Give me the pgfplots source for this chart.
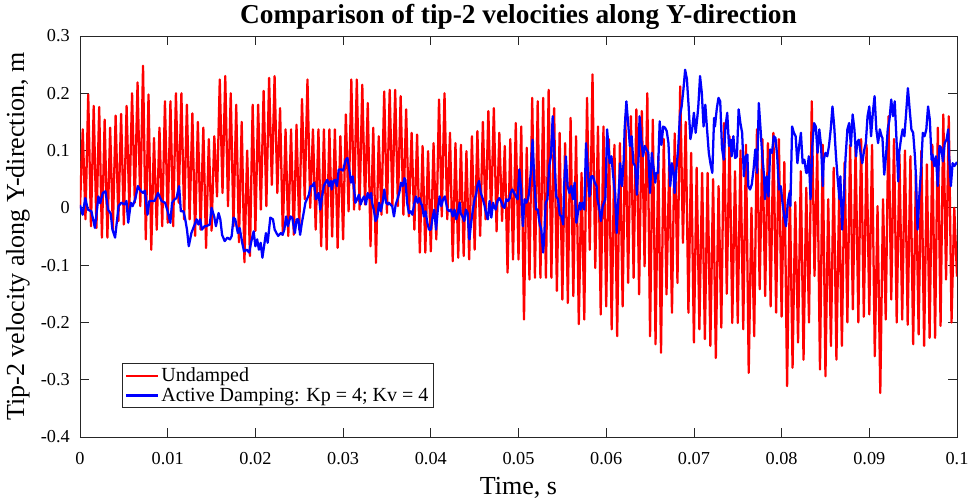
\documentclass[border=0pt]{standalone}
\usepackage{fontspec}
\setmainfont{Liberation Serif}
\usepackage{pgfplots}
\pgfplotsset{compat=1.18}
\definecolor{axgray}{gray}{0.15}
\begin{document}
\begin{tikzpicture}
\begin{axis}[
  at={(0,0)}, anchor=south west,
  scale only axis, width=657.75pt, height=300.75pt,
  xmin=0, xmax=0.1, ymin=-0.4, ymax=0.3,
  xtick={0,0.01,0.02,0.03,0.04,0.05,0.06,0.07,0.08,0.09,0.1},
  xticklabels={0,0.01,0.02,0.03,0.04,0.05,0.06,0.07,0.08,0.09,0.1},
  ytick={-0.4,-0.3,-0.2,-0.1,0,0.1,0.2,0.3},
  yticklabels={-0.4,-0.3,-0.2,-0.1,0,0.1,0.2,0.3},
  scaled ticks=false,
  tick align=inside, major tick length=6.6pt,
  axis line style={axgray, line width=0.6pt},
  every tick/.style={axgray, line width=0.6pt},
  tick label style={font=\fontsize{13.7}{16}\selectfont, text=black},
  xticklabel style={inner sep=0pt, yshift=-11pt},
  yticklabel style={inner sep=0pt, xshift=-7.5pt},
  every axis title shift=0pt,
  title={Comparison of tip-2 velocities along Y-direction},
  title style={font=\bfseries\fontsize{20.5}{24}\selectfont, at={(axis description cs:0.5,1.016)}, anchor=south, inner sep=0pt},
  xlabel={Time, s},
  xlabel style={font=\fontsize{19.5}{22}\selectfont, at={(axis description cs:0.5,-0.0998)}, anchor=north, inner sep=0pt},
  ylabel={Tip-2 velocity along Y-direction, m},
  ylabel style={font=\fontsize{19.5}{22}\selectfont, at={(axis description cs:-0.057,0.5)}, anchor=south, inner sep=0pt},
  legend style={at={(axis description cs:0.048,0.072)}, anchor=south west, draw=axgray, line width=0.5pt, fill=white,
    inner xsep=2pt, inner ysep=2pt, font=\fontsize{15}{17}\selectfont, row sep=0pt, nodes={inner sep=1.5pt}},
  legend cell align=left,
  legend image code/.code={\draw[#1] (0pt,0pt) -- (24pt,0pt);},
]
\addplot[red, line width=1.7pt, line join=round] table {
0 0.000
0.0003125 0.137
0.000625 -0.020
0.0009375 0.198
0.00125 -0.032
0.0015625 0.178
0.001875 -0.035
0.0021875 0.176
0.0025 -0.052
0.0028125 0.154
0.003125 -0.052
0.0034375 0.140
0.00375 -0.038
0.0040625 0.161
0.004375 -0.023
0.0046875 0.164
0.005 -0.029
0.0053125 0.178
0.005625 -0.003
0.0059375 0.200
0.00625 0.009
0.0065625 0.219
0.006875 0.003
0.0071875 0.248
0.0075 -0.055
0.0078125 0.198
0.008125 -0.073
0.0084375 0.122
0.00875 -0.038
0.0090625 0.140
0.009375 -0.032
0.0096875 0.186
0.01 -0.026
0.0103125 0.186
0.010625 -0.032
0.0109375 0.200
0.01125 0.009
0.0115625 0.200
0.011875 -0.020
0.0121875 0.180
0.0125 -0.020
0.0128125 0.165
0.013125 -0.049
0.0134375 0.150
0.01375 -0.038
0.0140625 0.140
0.014375 -0.070
0.0146875 0.120
0.015 -0.040
0.0153125 0.125
0.015625 0.020
0.0159375 0.224
0.01625 0.026
0.0165625 0.230
0.016875 0.003
0.0171875 0.200
0.0175 -0.032
0.0178125 0.180
0.018125 -0.060
0.0184375 0.150
0.01875 -0.095
0.0190625 0.100
0.019375 -0.084
0.0196875 0.180
0.02 -0.040
0.0203125 0.180
0.020625 -0.003
0.0209375 0.204
0.02125 0.003
0.0215625 0.227
0.021875 0.040
0.0221875 0.230
0.0225 0.026
0.0228125 0.174
0.023125 -0.047
0.0234375 0.137
0.02375 -0.049
0.0240625 0.137
0.024375 -0.047
0.0246875 0.145
0.025 -0.038
0.0253125 0.190
0.025625 0.015
0.0259375 0.224
0.02625 0.000
0.0265625 0.137
0.026875 -0.038
0.0271875 0.137
0.0275 -0.067
0.0278125 0.137
0.028125 -0.073
0.0284375 0.137
0.02875 -0.050
0.0290625 0.137
0.029375 -0.070
0.0296875 0.125
0.03 -0.055
0.0303125 0.163
0.030625 -0.006
0.0309375 0.224
0.03125 -0.003
0.0315625 0.224
0.031875 -0.003
0.0321875 0.215
0.0325 0.006
0.0328125 0.183
0.033125 -0.067
0.0334375 0.140
0.03375 -0.096
0.0340625 0.125
0.034375 -0.012
0.0346875 0.203
0.035 -0.009
0.0353125 0.206
0.035625 0.003
0.0359375 0.206
0.03625 0.003
0.0365625 0.195
0.036875 -0.012
0.0371875 0.172
0.0375 -0.015
0.0378125 0.131
0.038125 -0.038
0.0384375 0.128
0.03875 -0.078
0.0390625 0.108
0.039375 -0.078
0.0396875 0.099
0.04 -0.076
0.0403125 0.113
0.040625 -0.055
0.0409375 0.189
0.04125 -0.015
0.0415625 0.200
0.041875 -0.020
0.0421875 0.131
0.0425 -0.093
0.0428125 0.113
0.043125 -0.087
0.0434375 0.110
0.04375 -0.084
0.0440625 0.099
0.044375 -0.090
0.0446875 0.125
0.045 -0.073
0.0453125 0.134
0.045625 -0.049
0.0459375 0.150
0.04625 -0.020
0.0465625 0.169
0.046875 -0.015
0.0471875 0.174
0.0475 -0.041
0.0478125 0.131
0.048125 -0.023
0.0484375 0.108
0.04875 -0.113
0.0490625 0.120
0.049375 -0.090
0.0496875 0.148
0.05 -0.090
0.0503125 0.142
0.050625 -0.195
0.0509375 0.105
0.05125 -0.125
0.0515625 0.192
0.051875 -0.122
0.0521875 0.186
0.0525 -0.122
0.0528125 0.192
0.053125 -0.122
0.0534375 0.206
0.05375 -0.122
0.0540625 0.174
0.054375 -0.145
0.0546875 0.131
0.055 -0.160
0.0553125 0.113
0.055625 -0.166
0.0559375 0.157
0.05625 -0.154
0.0565625 0.125
0.056875 -0.203
0.0571875 0.061
0.0575 -0.195
0.0578125 0.192
0.058125 -0.073
0.0584375 0.233
0.05875 -0.105
0.0590625 0.142
0.059375 -0.186
0.0596875 0.142
0.06 -0.172
0.0603125 0.120
0.060625 -0.212
0.0609375 0.110
0.06125 -0.224
0.0615625 0.113
0.061875 -0.172
0.0621875 0.160
0.0625 -0.131
0.0628125 0.160
0.063125 -0.122
0.0634375 0.172
0.06375 -0.151
0.0640625 0.169
0.064375 -0.102
0.0646875 0.200
0.065 -0.224
0.0653125 0.154
0.065625 -0.238
0.0659375 0.090
0.06625 -0.253
0.0665625 0.120
0.066875 -0.151
0.0671875 0.080
0.0675 -0.183
0.0678125 0.130
0.068125 -0.131
0.0684375 0.212
0.06875 -0.061
0.0690625 0.150
0.069375 -0.183
0.0696875 0.096
0.07 -0.235
0.0703125 0.070
0.070625 -0.212
0.0709375 0.061
0.07125 -0.229
0.0715625 0.061
0.071875 -0.241
0.0721875 0.050
0.0725 -0.262
0.0728125 0.038
0.073125 -0.209
0.0734375 0.148
0.07375 -0.150
0.0740625 0.125
0.074375 -0.201
0.0746875 0.064
0.075 -0.201
0.0753125 0.100
0.075625 -0.212
0.0759375 0.110
0.07625 -0.288
0.0765625 0.000
0.076875 -0.224
0.0771875 0.137
0.0775 -0.142
0.0778125 0.120
0.078125 -0.154
0.0784375 0.113
0.07875 -0.172
0.0790625 0.131
0.079375 -0.183
0.0796875 0.120
0.08 -0.190
0.0803125 0.080
0.080625 -0.311
0.0809375 0.030
0.08125 -0.279
0.0815625 0.010
0.081875 -0.235
0.0821875 0.064
0.0825 -0.265
0.0828125 0.035
0.083125 -0.200
0.0834375 0.186
0.08375 -0.119
0.0840625 0.100
0.084375 -0.282
0.0846875 0.110
0.085 -0.294
0.0853125 0.015
0.085625 -0.241
0.0859375 0.070
0.08625 -0.265
0.0865625 0.026
0.086875 -0.241
0.0871875 0.080
0.0875 -0.200
0.0878125 0.110
0.088125 -0.177
0.0884375 0.108
0.08875 -0.200
0.0890625 0.120
0.089375 -0.190
0.0896875 0.110
0.09 -0.186
0.0903125 0.110
0.090625 -0.259
0.0909375 0.003
0.09125 -0.323
0.0915625 0.015
0.091875 -0.195
0.0921875 0.160
0.0925 -0.160
0.0928125 0.120
0.093125 -0.200
0.0934375 0.093
0.09375 -0.195
0.0940625 0.100
0.094375 -0.204
0.0946875 0.090
0.095 -0.238
0.0953125 0.058
0.095625 -0.221
0.0959375 0.100
0.09625 -0.241
0.0965625 0.076
0.096875 -0.227
0.0971875 0.110
0.0975 -0.227
0.0978125 0.140
0.098125 -0.206
0.0984375 0.163
0.09875 -0.125
0.0990625 0.160
0.099375 -0.200
0.0996875 0.000
0.1 -0.120
};
\addlegendentry{Undamped}
\addplot[blue, line width=1.7pt, line join=round] table {
0 0.005
0.0003 -0.012
0.0006 0.017
0.0009 -0.003
0.0013 -0.006
0.0017 -0.035
0.0021 0.020
0.0023 0.008
0.0026 0.026
0.0029 0.029
0.0032 -0.003
0.0035 -0.010
0.0037 -0.038
0.0040 -0.052
0.0044 0.003
0.0047 0.009
0.0051 0.006
0.0053 0.012
0.0055 -0.026
0.0058 0.009
0.0060 0.003
0.0063 0.015
0.0066 0.038
0.0069 0.030
0.0072 0.026
0.0074 0.030
0.0077 -0.012
0.0079 0.012
0.0085 0.012
0.0089 0.026
0.0093 0.012
0.0097 0.009
0.0100 -0.006
0.0103 -0.026
0.0105 0.009
0.0108 0.015
0.0110 0.017
0.0113 0.038
0.0115 -0.006
0.0118 -0.006
0.0120 -0.020
0.0122 -0.038
0.0124 -0.067
0.0127 -0.044
0.0130 -0.032
0.0133 -0.020
0.0135 -0.029
0.0137 -0.020
0.0139 -0.038
0.0142 -0.032
0.0144 -0.032
0.0148 -0.029
0.0150 0.000
0.0153 -0.015
0.0155 -0.032
0.0158 -0.009
0.0160 -0.020
0.0162 -0.047
0.0165 -0.058
0.0168 -0.052
0.0171 -0.055
0.0173 -0.049
0.0175 -0.017
0.0177 -0.020
0.0180 -0.044
0.0182 -0.035
0.0185 -0.061
0.0187 -0.076
0.0190 -0.073
0.0193 -0.078
0.0195 -0.061
0.0198 -0.041
0.0200 -0.067
0.0202 -0.055
0.0204 -0.073
0.0206 -0.061
0.0208 -0.087
0.0211 -0.055
0.0212 -0.044
0.0214 -0.061
0.0217 -0.017
0.0220 -0.020
0.0222 -0.038
0.0224 -0.044
0.0226 -0.049
0.0229 -0.044
0.0231 -0.047
0.0233 -0.038
0.0235 -0.015
0.0237 -0.032
0.0240 -0.015
0.0242 -0.017
0.0245 -0.044
0.0247 -0.020
0.0249 -0.020
0.0251 -0.047
0.0253 -0.026
0.0255 -0.009
0.0257 0.009
0.0261 0.023
0.0263 0.038
0.0265 0.038
0.0267 0.044
0.0269 0.015
0.0271 0.020
0.0272 0.026
0.0274 -0.003
0.0276 0.020
0.0278 0.038
0.0280 0.044
0.0282 0.049
0.0284 0.038
0.0286 0.047
0.0287 0.032
0.0289 0.047
0.0291 0.049
0.0293 0.038
0.0295 0.067
0.0298 0.067
0.0300 0.065
0.0303 0.084
0.0305 0.087
0.0307 0.067
0.0309 0.044
0.0311 0.055
0.0313 0.026
0.0314 0.009
0.0316 0.015
0.0318 0.023
0.0320 0.006
0.0322 0.015
0.0324 0.020
0.0326 0.006
0.0328 0.026
0.0330 0.017
0.0332 0.026
0.0333 0.009
0.0335 -0.003
0.0337 -0.023
0.0339 -0.017
0.0341 0.009
0.0343 -0.006
0.0345 0.009
0.0347 0.032
0.0349 0.009
0.0351 0.006
0.0352 0.009
0.0354 0.006
0.0356 0.003
0.0358 -0.015
0.0360 0.006
0.0362 0.015
0.0364 0.026
0.0366 0.044
0.0368 0.038
0.0370 0.052
0.0371 0.049
0.0373 0.009
0.0375 -0.009
0.0377 -0.006
0.0379 -0.012
0.0381 0.006
0.0383 0.020
0.0385 0.009
0.0387 0.017
0.0389 0.006
0.0390 0.006
0.0392 -0.015
0.0394 -0.006
0.0396 -0.026
0.0398 -0.038
0.0400 -0.038
0.0402 -0.017
0.0404 -0.003
0.0406 -0.038
0.0408 -0.003
0.0410 0.020
0.0412 0.003
0.0414 0.015
0.0416 0.020
0.0417 0.012
0.0419 -0.003
0.0421 -0.006
0.0423 -0.003
0.0425 -0.015
0.0427 -0.003
0.0429 -0.020
0.0431 -0.009
0.0433 0.009
0.0434 -0.009
0.0436 -0.015
0.0438 -0.023
0.0440 -0.003
0.0442 -0.009
0.0444 -0.055
0.0446 -0.026
0.0448 -0.003
0.0450 0.015
0.0452 0.026
0.0453 0.038
0.0455 0.047
0.0457 0.026
0.0459 0.017
0.0461 0.006
0.0463 -0.009
0.0465 -0.020
0.0467 0.012
0.0469 -0.017
0.0471 0.009
0.0472 0.003
0.0474 -0.003
0.0476 0.012
0.0478 0.017
0.0480 0.012
0.0482 0.003
0.0484 0.000
0.0486 0.015
0.0488 0.012
0.0490 0.017
0.0491 0.026
0.0493 0.032
0.0495 0.026
0.0497 0.020
0.0499 0.015
0.0501 0.067
0.0503 0.032
0.0505 -0.032
0.0507 0.015
0.0509 0.009
0.0511 0.017
0.0512 0.026
0.0514 0.061
0.0516 0.119
0.0518 0.049
0.0520 -0.003
0.0522 -0.003
0.0524 -0.026
0.0526 -0.038
0.0528 -0.078
0.0529 -0.061
0.0531 0.009
0.0533 0.015
0.0535 0.073
0.0537 0.090
0.0539 0.160
0.0541 0.084
0.0543 0.020
0.0545 0.015
0.0547 -0.012
0.0549 -0.015
0.0551 -0.029
0.0552 0.038
0.0554 0.090
0.0556 0.038
0.0558 0.026
0.0560 0.038
0.0562 0.015
0.0564 0.044
0.0566 -0.026
0.0568 -0.006
0.0570 0.009
0.0571 -0.003
0.0573 0.009
0.0575 -0.003
0.0577 0.113
0.0579 0.067
0.0581 0.020
0.0583 0.055
0.0585 0.055
0.0587 0.044
0.0589 0.038
0.0590 0.015
0.0592 0.000
0.0594 -0.023
0.0596 0.003
0.0599 0.015
0.0601 0.137
0.0602 0.119
0.0604 0.078
0.0606 0.090
0.0608 0.055
0.0610 0.026
0.0612 -0.044
0.0614 0.020
0.0616 0.078
0.0618 0.038
0.0620 0.084
0.0621 0.137
0.0623 0.186
0.0625 0.148
0.0627 0.108
0.0629 0.125
0.0631 0.078
0.0633 0.073
0.0635 0.023
0.0637 0.090
0.0638 0.160
0.0640 0.119
0.0642 0.090
0.0644 0.108
0.0646 0.102
0.0648 0.096
0.0650 0.026
0.0652 0.096
0.0654 0.070
0.0656 0.044
0.0657 0.061
0.0659 0.061
0.0661 0.151
0.0663 0.110
0.0665 0.142
0.0667 0.140
0.0669 0.134
0.0671 0.113
0.0673 0.038
0.0675 0.078
0.0677 0.061
0.0678 0.026
0.0680 0.067
0.0682 0.102
0.0684 0.160
0.0686 0.177
0.0688 0.206
0.0690 0.241
0.0692 0.225
0.0694 0.177
0.0696 0.120
0.0698 0.137
0.0700 0.166
0.0702 0.131
0.0704 0.160
0.0705 0.177
0.0707 0.230
0.0709 0.201
0.0711 0.142
0.0713 0.180
0.0715 0.137
0.0717 0.096
0.0719 0.076
0.0721 0.061
0.0723 0.157
0.0724 0.142
0.0726 0.172
0.0728 0.192
0.0730 0.186
0.0732 0.105
0.0734 0.084
0.0736 0.142
0.0738 0.166
0.0740 0.108
0.0742 0.119
0.0743 0.090
0.0745 0.125
0.0747 0.087
0.0749 0.090
0.0751 0.172
0.0753 0.148
0.0755 0.131
0.0757 0.055
0.0759 0.090
0.0761 0.093
0.0762 0.038
0.0764 0.032
0.0766 0.041
0.0768 0.067
0.0770 0.102
0.0772 0.061
0.0774 0.183
0.0776 0.137
0.0778 0.090
0.0780 0.055
0.0781 0.015
0.0783 0.055
0.0785 0.020
0.0787 0.102
0.0789 0.096
0.0791 0.125
0.0793 0.122
0.0795 0.090
0.0797 0.032
0.0799 0.038
0.0801 0.009
0.0803 -0.015
0.0805 -0.032
0.0807 0.009
0.0809 0.026
0.0810 0.003
0.0812 0.142
0.0814 0.131
0.0816 0.125
0.0818 0.078
0.0820 0.108
0.0822 0.131
0.0824 0.078
0.0826 0.084
0.0828 0.061
0.0829 0.061
0.0831 0.090
0.0833 0.015
0.0835 0.108
0.0837 0.148
0.0839 0.142
0.0841 0.096
0.0843 0.137
0.0845 0.108
0.0847 0.038
0.0848 0.084
0.0850 0.096
0.0852 0.090
0.0854 0.108
0.0856 0.137
0.0858 0.177
0.0860 0.142
0.0862 0.090
0.0864 0.049
0.0866 0.015
0.0867 0.055
0.0869 -0.038
0.0871 0.020
0.0873 0.090
0.0875 0.137
0.0877 0.148
0.0879 0.108
0.0881 0.163
0.0883 0.137
0.0885 0.090
0.0886 0.113
0.0888 0.119
0.0890 0.096
0.0892 0.078
0.0894 0.100
0.0896 0.113
0.0898 0.160
0.0900 0.177
0.0902 0.125
0.0904 0.166
0.0906 0.195
0.0908 0.137
0.0910 0.113
0.0912 0.137
0.0914 0.125
0.0915 0.122
0.0917 0.058
0.0919 0.090
0.0921 0.137
0.0923 0.154
0.0925 0.189
0.0927 0.160
0.0929 0.186
0.0931 0.119
0.0933 0.046
0.0934 0.096
0.0936 0.119
0.0938 0.137
0.0940 0.125
0.0942 0.166
0.0944 0.209
0.0946 0.172
0.0948 0.137
0.0950 0.131
0.0952 0.090
0.0953 0.061
0.0955 -0.038
0.0957 0.020
0.0959 0.067
0.0961 0.131
0.0963 0.125
0.0965 0.137
0.0967 0.177
0.0969 0.154
0.0971 0.084
0.0972 0.093
0.0974 0.073
0.0976 0.090
0.0978 0.038
0.0980 0.108
0.0982 0.105
0.0984 0.081
0.0986 0.113
0.0988 0.119
0.0990 0.137
0.0991 0.090
0.0993 0.038
0.0995 0.078
0.0997 0.073
0.1000 0.080
};
\addlegendentry{Active Damping: Kp = 4; Kv = 4}
\end{axis}
\pgfresetboundingbox
\useasboundingbox (-60pt,-48pt) rectangle (675pt,327.75pt);
\end{tikzpicture}
\end{document}
